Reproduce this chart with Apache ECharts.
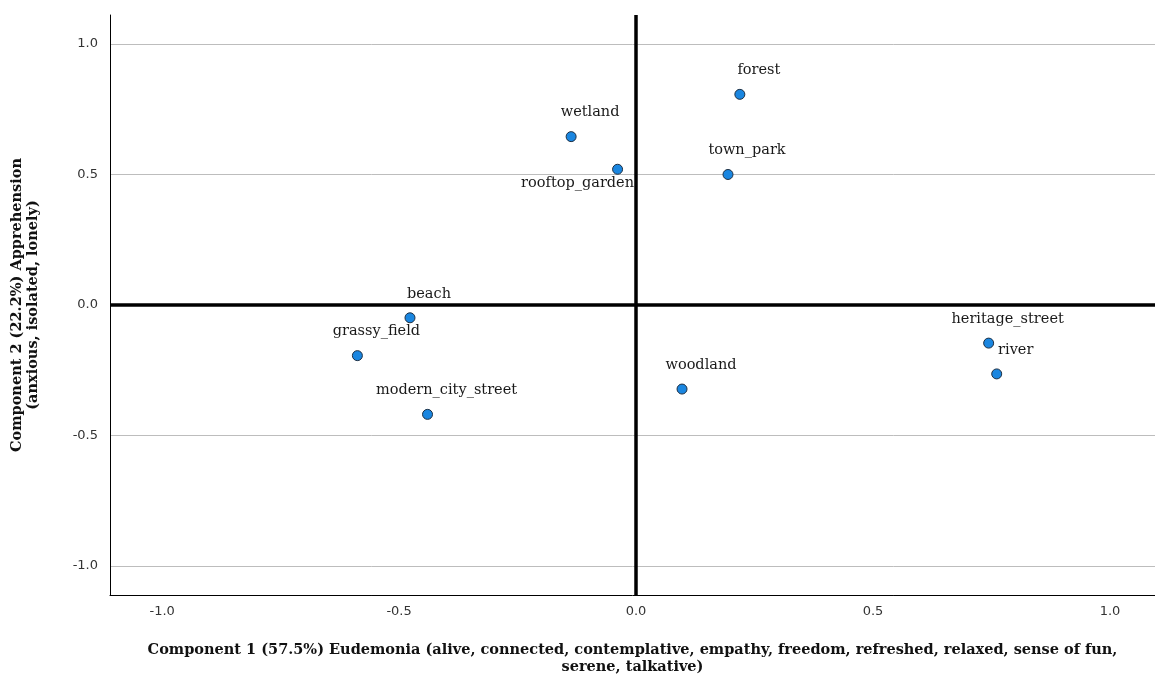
<!DOCTYPE html>
<html>
<head>
<meta charset="utf-8">
<script src="https://cdn.jsdelivr.net/npm/echarts@6/dist/echarts.min.js"></script>
<style>
html,body{margin:0;padding:0;background:#fff;}
#chart{width:1155px;height:679px;}
</style>
</head>
<body>
<div id="chart"></div>
<script>
// scene names and their component scores
var names = ["forest","wetland","rooftop_garden","town_park","beach","grassy_field","modern_city_street","woodland","heritage_street","river"];
var comp1 = [0.219,-0.137,-0.039,0.194,-0.477,-0.588,-0.440,0.097,0.744,0.761];
var comp2 = [0.807,0.645,0.520,0.500,-0.049,-0.194,-0.419,-0.322,-0.146,-0.264];
var tickVals = [-1.0,-0.5,0.0,0.5,1.0];

var chart = echarts.init(document.getElementById("chart"));

var pts = [];
for (var i = 0; i < names.length; i++) {
    var item = {name: names[i], value: [comp1[i], comp2[i]]};
    if (names[i] == "rooftop_garden") {
        item.label = {offset: [-40, 14]};
    }
    pts.push(item);
}

var option = {
    animation: false,
    grid: {left: 110, right: 0, top: 15, bottom: 84, containLabel: false, outerBoundsMode: 'none'},
    xAxis: {
        type: 'value',
        min: -1.11,
        max: 1.095,
        name: "Component 1 (57.5%) Eudemonia (alive, connected, contemplative, empathy, freedom, refreshed, relaxed, sense of fun,\nserene, talkative)",
        nameLocation: 'middle',
        nameGap: 47,
        nameTextStyle: {fontFamily: 'DejaVu Serif', fontWeight: 'bold', fontSize: 14.5, color: '#111', lineHeight: 17},
        axisLine: {onZero: false, lineStyle: {color: '#000', width: 1}},
        axisTick: {show: false, customValues: tickVals},
        axisLabel: {customValues: tickVals, formatter: function (v) { return v.toFixed(1); }, color: '#333', fontFamily: 'DejaVu Sans', fontSize: 13, margin: 10},
        splitLine: {show: false}
    },
    yAxis: {
        type: 'value',
        min: -1.111,
        max: 1.111,
        name: "Component 2 (22.2%) Apprehension\n(anxious, isolated, lonely)",
        nameLocation: 'middle',
        nameGap: 69,
        nameTextStyle: {fontFamily: 'DejaVu Serif', fontWeight: 'bold', fontSize: 14.5, color: '#111', lineHeight: 16},
        axisLine: {onZero: false, lineStyle: {color: '#000', width: 1}},
        axisTick: {show: false, customValues: tickVals},
        axisLabel: {customValues: tickVals, formatter: function (v) { return v.toFixed(1); }, color: '#333', fontFamily: 'DejaVu Sans', fontSize: 13, margin: 12},
        splitLine: {show: true, lineStyle: {color: '#bdbdbd', width: 1}}
    },
    series: [{
        type: 'scatter',
        symbol: 'circle',
        symbolSize: 10,
        itemStyle: {color: '#1a86e0', borderColor: '#1e2f42', borderWidth: 1, opacity: 1},
        label: {
            show: true,
            position: 'inside',
            offset: [19, -24],
            formatter: '{b}',
            color: '#1a1a1a',
            fontFamily: 'DejaVu Serif',
            fontSize: 14.5
        },
        markLine: {
            silent: true,
            symbol: 'none',
            label: {show: false},
            lineStyle: {color: '#000', width: 3.5, type: 'solid', opacity: 1},
            data: [{xAxis: 0}, {yAxis: 0}]
        },
        data: pts
    }]
};
chart.setOption(option);
</script>
</body>
</html>
